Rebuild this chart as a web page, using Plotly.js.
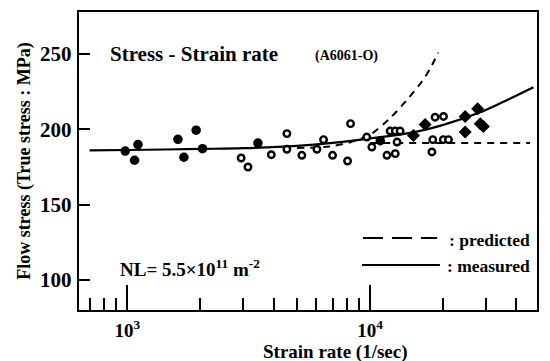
<!DOCTYPE html>
<html>
<head>
<meta charset="utf-8">
<script src="https://cdn.plot.ly/plotly-3.0.1.min.js"></script>
<style>html,body{margin:0;padding:0;background:#fff;}#chart{width:550px;height:361px;}</style>
</head>
<body>
<div id="chart"></div>
<script>
// Filled circles (strain rate, stress)
const filledX = [981, 1072, 1107, 1617, 1711, 1922, 2041, 3451, 11000];
const filledY = [185.6, 179.5, 189.9, 193.4, 181.5, 199.5, 187.2, 190.9, 192.5];
// Open circles
const openX = [2944, 3140, 3917, 4541, 4541, 5233, 6036, 6428, 7002, 8070, 8300, 9680, 10160,
               11720, 12080, 12680, 12680, 12900, 13280, 17950, 18100, 18500, 20000, 20040, 21000];
const openY = [181, 175, 183.2, 197.2, 186.8, 182.8, 186.8, 193.2, 182.8, 179, 203.8, 194.9, 188.3,
               182.8, 198.9, 198.9, 183.9, 191.6, 198.9, 185, 193.2, 208.1, 193.2, 208.6, 193.2];
// Filled diamonds
const diamondX = [15070, 16830, 24600, 24600, 27690, 28380, 29240];
const diamondY = [196, 203.3, 208.6, 198.2, 213.7, 203.8, 202];
// Measured curve (solid)
const measX = [700, 1000, 2000, 3000, 5000, 7000, 10000, 15000, 20000, 28000, 35000, 47000];
const measY = [186, 186.3, 187, 187.5, 189, 191, 194, 198, 203, 211, 218, 228];
// Predicted curve (dashed, rising)
const predX = [5000, 6846, 8279, 10000, 12080, 14320, 16360, 17650, 19060];
const predY = [187.6, 188.7, 191.5, 196.5, 207.5, 220.5, 232, 240.4, 251];
// Predicted flat (dashed)
const flatX = [10000, 45500];
const flatY = [191, 191];
// Axis ticks
const xTickVals = [1000, 10000];
const xTickText = ['10<sup>3</sup>', '10<sup>4</sup>'];
const xMinorVals = [700, 800, 900, 2000, 3000, 4000, 5000, 6000, 7000, 8000, 9000, 20000, 30000, 40000];
const yTickVals = [100, 150, 200, 250];

const F = 'Liberation Serif, Times New Roman, serif';

const traces = [
  {x: measX, y: measY, mode: 'lines', line: {color: '#000', width: 2.2, shape: 'spline'}, showlegend: false},
  {x: predX, y: predY, mode: 'lines', line: {color: '#000', width: 2, dash: '7px,6px', shape: 'spline', smoothing: 0.8}, showlegend: false},
  {x: flatX, y: flatY, mode: 'lines', line: {color: '#000', width: 2, dash: '7px,6px'}, showlegend: false},
  {x: openX, y: openY, mode: 'markers', marker: {symbol: 'circle', size: 6.5, color: '#fff', line: {color: '#000', width: 2.4}}, showlegend: false},
  {x: filledX, y: filledY, mode: 'markers', marker: {symbol: 'circle', size: 9.5, color: '#000'}, showlegend: false},
  {x: diamondX, y: diamondY, mode: 'markers', marker: {symbol: 'diamond', size: 10, color: '#000'}, showlegend: false}
];

const layout = {
  width: 550, height: 361,
  margin: {l: 79, r: 13, t: 12, b: 51},
  paper_bgcolor: '#fff', plot_bgcolor: '#fff',
  showlegend: false,
  font: {family: F, color: '#000'},
  xaxis: {
    type: 'log',
    range: [Math.log10(633), Math.log10(48600)],
    showgrid: false, zeroline: false,
    showline: true, linecolor: '#000', linewidth: 2.4, mirror: true,
    ticks: 'inside', ticklen: 25, tickwidth: 2, tickcolor: '#000',
    tickmode: 'array', tickvals: xTickVals, ticktext: xTickText,
    tickfont: {family: F, size: 19, color: '#000', weight: 'bold'},
    ticklabelstandoff: 2,
    minor: {ticks: 'inside', ticklen: 12, tickwidth: 2, tickcolor: '#000', tickmode: 'array', tickvals: xMinorVals, showgrid: false}
  },
  yaxis: {
    range: [80, 278],
    showgrid: false, zeroline: false,
    showline: true, linecolor: '#000', linewidth: 2.4, mirror: true,
    ticks: 'inside', ticklen: 11, tickwidth: 2, tickcolor: '#000',
    tickmode: 'array', tickvals: yTickVals,
    tickfont: {family: F, size: 21, color: '#000', weight: 'bold'},
    ticklabelstandoff: 1,
    title: {text: 'Flow stress (True stress : MPa)', font: {family: F, size: 18, color: '#000', weight: 'bold'}, standoff: 5}
  },
  shapes: [
    {type: 'line', xref: 'paper', yref: 'paper', x0: 0.620, x1: 0.782, y0: 0.2416, y1: 0.2416, line: {color: '#000', width: 2.2, dash: '20px,9px'}},
    {type: 'line', xref: 'paper', yref: 'paper', x0: 0.618, x1: 0.788, y0: 0.151, y1: 0.151, line: {color: '#000', width: 2.2}}
  ],
  annotations: [
    {xref: 'paper', yref: 'paper', x: 0.063, y: 0.859, xanchor: 'left', yanchor: 'middle', showarrow: false,
     text: 'Stress - Strain rate', font: {family: F, size: 21, color: '#000', weight: 'bold'}},
    {xref: 'paper', yref: 'paper', x: 0.51, y: 0.852, xanchor: 'left', yanchor: 'middle', showarrow: false,
     text: '(A6061-O)', font: {family: F, size: 14, color: '#000', weight: 'bold'}},
    {xref: 'paper', yref: 'paper', x: 0.085, y: 0.141, xanchor: 'left', yanchor: 'middle', showarrow: false,
     text: 'NL= 5.5×10<sup>11</sup> m<sup>-2</sup>', font: {family: F, size: 19, color: '#000', weight: 'bold'}},
    {xref: 'paper', yref: 'paper', x: 0.99, y: 0.235, xanchor: 'right', yanchor: 'middle', showarrow: false,
     text: ': predicted', font: {family: F, size: 17.5, color: '#000', weight: 'bold'}},
    {xref: 'paper', yref: 'paper', x: 0.99, y: 0.148, xanchor: 'right', yanchor: 'middle', showarrow: false,
     text: ': measured', font: {family: F, size: 17.5, color: '#000', weight: 'bold'}},
    {xref: 'paper', yref: 'paper', x: 0.561, y: -0.141, xanchor: 'center', yanchor: 'middle', showarrow: false,
     text: 'Strain rate (1/sec)', font: {family: F, size: 19, color: '#000', weight: 'bold'}}
  ]
};

Plotly.newPlot('chart', traces, layout, {staticPlot: true, displayModeBar: false});
</script>
</body>
</html>
